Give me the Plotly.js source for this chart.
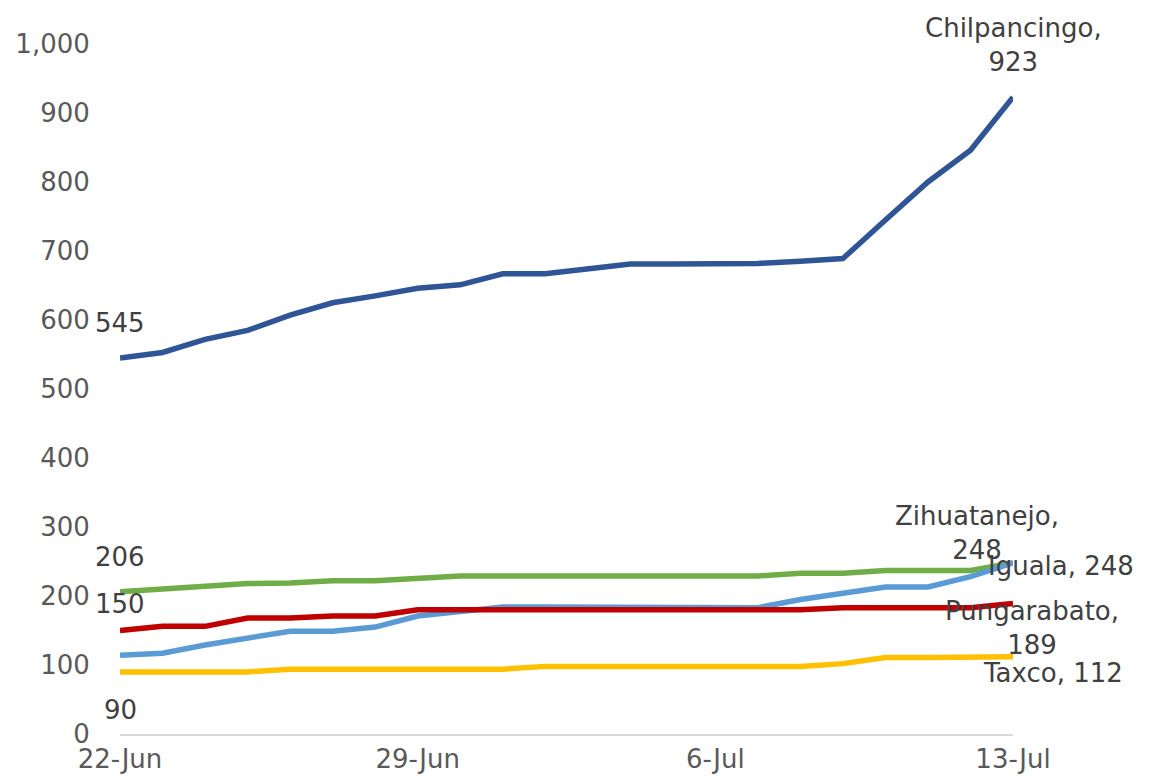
<!DOCTYPE html>
<html>
<head>
<meta charset="utf-8">
<script src="https://cdn.plot.ly/plotly-3.0.1.min.js"></script>
<style>html,body{margin:0;padding:0;background:#fff;}#chart{width:1150px;height:777px;}</style>
</head>
<body>
<div id="chart"></div>
<script>
const dates = ["2020-06-22","2020-06-23","2020-06-24","2020-06-25","2020-06-26","2020-06-27","2020-06-28","2020-06-29","2020-06-30","2020-07-01","2020-07-02","2020-07-03","2020-07-04","2020-07-05","2020-07-06","2020-07-07","2020-07-08","2020-07-09","2020-07-10","2020-07-11","2020-07-12","2020-07-13"];
const chilpancingo = [545,553,572,585,607,625,635,646,651,667,667,674,681,681,682,682,685,689,745,800,846,923];
const zihuatanejo = [206,210,214,218,219,222,222,226,229,229,229,229,229,229,229,229,233,233,237,237,237,248];
const iguala = [114,117,129,140,149,149,155,171,177,184,184,184,184,184,183,183,195,203,213,213,228,248];
const pungarabato = [150,156,156,168,168,171,171,180,180,180,180,180,180,180,180,180,180,183,183,183,183,189];
const taxco = [90,90,90,90,94,94,94,94,94,94,98,98,98,98,98,98,98,102,111,111,111,112];
const seriesNames = ["Chilpancingo","Zihuatanejo","Iguala","Pungarabato","Taxco"];
const xTickVals = ["2020-06-22","2020-06-29","2020-07-06","2020-07-13"];
const xTickText = ["22-Jun","29-Jun","6-Jul","13-Jul"];
const yTickVals = [0,100,200,300,400,500,600,700,800,900,1000];

const seriesData = [chilpancingo, zihuatanejo, iguala, pungarabato, taxco];
const colors = ["#2F5597","#70AD47","#5B9BD5","#C00000","#FFC000"];
const FONT = "DejaVu Sans, Open Sans, sans-serif";
const FS = 26;

const traces = seriesData.map((d,i)=>({
  x: dates, y: d, type: "scatter", mode: "lines", name: seriesNames[i],
  line: {color: colors[i], width: 5.5}, hoverinfo: "x+y"
}));

const last = dates.length - 1;
const endStyle = [
  {br:true, xanchor:"center", yanchor:"bottom", xshift:0, yshift:18},
  {br:true, xanchor:"center", yanchor:"bottom", xshift:-36, yshift:-4},
  {br:false, xanchor:"left", yanchor:"middle", xshift:-27, yshift:-3},
  {br:true, xanchor:"center", yanchor:"top", xshift:19, yshift:10},
  {br:false, xanchor:"center", yanchor:"top", xshift:40, yshift:1}
];
const startStyle = [
  {yshift:35, show:true},
  {yshift:35, show:true},
  {yshift:0, show:false},
  {yshift:27, show:true},
  {yshift:-38, show:true}
];

const annotations = [];
seriesData.forEach((d,i)=>{
  const es = endStyle[i];
  annotations.push({
    x: dates[last], y: d[last], xref:"x", yref:"y",
    text: seriesNames[i] + "," + (es.br ? "<br>" : " ") + d[last],
    showarrow:false, xanchor: es.xanchor, yanchor: es.yanchor,
    xshift: es.xshift, yshift: es.yshift,
    font:{family:FONT, size:FS, color:"#404040"}
  });
  const ss = startStyle[i];
  if (ss.show) {
    annotations.push({
      x: dates[0], y: d[0], xref:"x", yref:"y",
      text: String(d[0]), showarrow:false, xanchor:"center", yanchor:"middle",
      yshift: ss.yshift, xshift: 0,
      font:{family:FONT, size:FS, color:"#404040"}
    });
  }
});

const layout = {
  width:1150, height:777,
  margin:{l:120, r:137, t:44, b:43},
  paper_bgcolor:"#fff", plot_bgcolor:"#fff",
  showlegend:false,
  font:{family:FONT, size:FS, color:"#595959"},
  xaxis:{
    type:"date", range:[dates[0], dates[last]],
    tickvals:xTickVals, ticktext:xTickText,
    showgrid:false, zeroline:false,
    showline:true, linecolor:"#d9d9d9", linewidth:1.5,
    ticks:"outside", ticklen:1, tickcolor:"rgba(0,0,0,0)",
    tickfont:{family:FONT, size:FS, color:"#595959"},
    fixedrange:true
  },
  yaxis:{
    range:[0,1000], tickvals:yTickVals, tickformat:",d",
    showgrid:false, zeroline:false, showline:false,
    ticks:"outside", ticklen:24, tickcolor:"rgba(0,0,0,0)",
    tickfont:{family:FONT, size:FS, color:"#595959"},
    fixedrange:true
  },
  annotations: annotations
};

Plotly.newPlot("chart", traces, layout, {displayModeBar:false, staticPlot:true});
</script>
</body>
</html>
